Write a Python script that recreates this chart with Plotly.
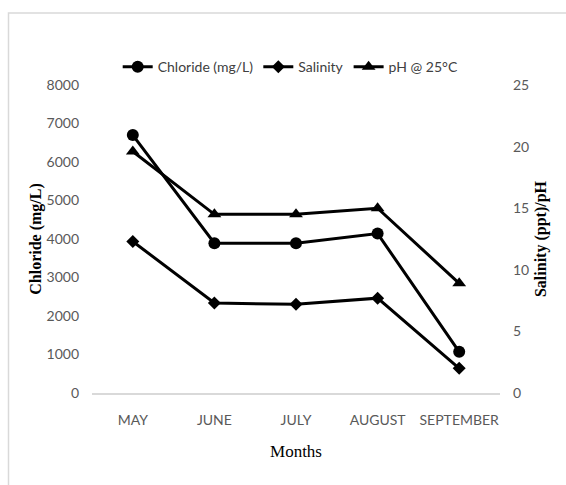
import plotly.graph_objects as go

months = ["MAY", "JUNE", "JULY", "AUGUST", "SEPTEMBER"]
chloride = [6700, 3890, 3890, 4140, 1070]
salinity = [12.3, 7.3, 7.2, 7.7, 2.0]
ph = [19.6, 14.5, 14.5, 15.0, 8.9]

fig = go.Figure()
line = dict(color="black", width=3)
fig.add_trace(go.Scatter(x=months, y=chloride, name="Chloride (mg/L)", mode="lines+markers",
                         line=line, marker=dict(symbol="circle", size=12, color="black"),
                         yaxis="y"))
fig.add_trace(go.Scatter(x=months, y=salinity, name="Salinity", mode="lines+markers",
                         line=line, marker=dict(symbol="diamond", size=10, color="black"),
                         yaxis="y2"))
fig.add_trace(go.Scatter(x=months, y=ph, name="pH @ 25°C", mode="lines+markers",
                         line=line, marker=dict(symbol="triangle-up", size=12, color="black"),
                         yaxis="y2"))

sans = "Lato, Roboto, sans-serif"
serif = "Liberation Serif, Times New Roman, serif"
tickfont = dict(family=sans, size=14, color="#595959")
W, H = 566, 485
L, R, T, B = 92, 66, 85, 92

fig.update_layout(
    width=W, height=H,
    margin=dict(l=L, r=R, t=T, b=B),
    paper_bgcolor="white", plot_bgcolor="white",
    showlegend=True,
    legend=dict(orientation="h", x=0.487, xanchor="center", y=1.058, yanchor="middle",
                font=dict(family=sans, size=14, color="#404040"),
                itemwidth=30, tracegroupgap=0, bgcolor="rgba(0,0,0,0)"),
    xaxis=dict(type="category", range=[-0.5, 4.5],
               showgrid=False, zeroline=False, showline=True, linecolor="#d9d9d9", linewidth=1.5,
               ticks="", tickfont=tickfont, ticklabelstandoff=13,
               title=dict(text="Months", font=dict(family=serif, size=17, color="black"),
                          standoff=19)),
    yaxis=dict(range=[0, 8000], tickvals=[0, 1000, 2000, 3000, 4000, 5000, 6000, 7000, 8000],
               showgrid=False, zeroline=False, showline=False, ticks="", tickfont=tickfont,
               ticklabelstandoff=12,
               title=dict(text="<b>Chloride (mg/L)</b>", font=dict(family=serif, size=16, color="black"),
                          standoff=0)),
    yaxis2=dict(range=[0, 25], tickvals=[0, 5, 10, 15, 20, 25], overlaying="y", side="right",
                showgrid=False, zeroline=False, showline=False, ticks="", tickfont=tickfont,
                ticklabelstandoff=12,
                title=dict(text="<b>Salinity (ppt)/pH</b>", font=dict(family=serif, size=16, color="black"),
                           standoff=6)),
    shapes=[dict(type="rect", xref="paper", yref="paper",
                 x0=(8.5 - L) / (W - L - R), x1=1.4,
                 y0=-0.5, y1=(H - B - 13) / (H - T - B),
                 line=dict(color="#d9d9d9", width=1.5), fillcolor="rgba(0,0,0,0)", layer="below")],
)

fig.write_html("out.html")
